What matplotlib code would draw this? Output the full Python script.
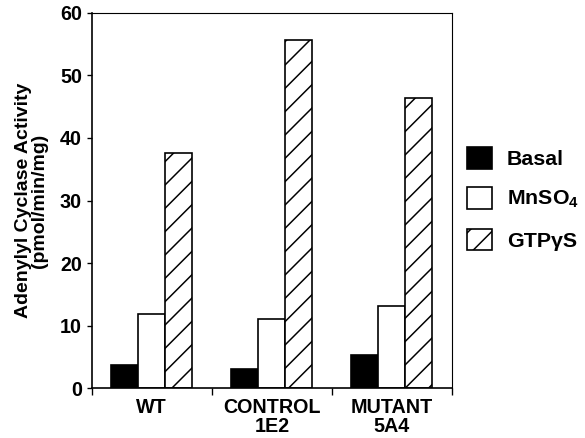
import matplotlib.pyplot as plt
from matplotlib.patches import Patch
import numpy as np

# ------------------------------------------------ Data ------------------------------------------------ #
grupos = ['WT', 'CONTROL\n1E2', 'MUTANT\n5A4']
basal = [3.8, 3.1, 5.3]
mnso4 = [11.8, 11.1, 13.1]
gtp = [37.6, 55.6, 46.3]
series = ['Basal', 'MnSO$_4$', 'GTP\u03b3S']

# ------------------------------------------------ Style ----------------------------------------------- #
# dpi 70 so that the '/' hatch spacing matches the original (~23 px)
dpi = 70
plt.rcParams['font.family'] = ['Liberation Sans', 'DejaVu Sans']
plt.rcParams['font.weight'] = 'bold'
plt.rcParams['mathtext.default'] = 'regular'
plt.rcParams['hatch.linewidth'] = 1.55

fig = plt.figure(figsize=(585 / dpi, 438 / dpi), dpi=dpi)
ax = fig.add_axes([91.7 / 585, 1 - 388.3 / 438, (452 - 91.7) / 585, (388.3 - 12.7) / 438])

x = np.arange(len(grupos))
w = 0.225
ax.bar(x + 0.275, basal, w, color='black', edgecolor='black', linewidth=1.7)
ax.bar(x + 0.5, mnso4, w, color='white', edgecolor='black', linewidth=1.7)
ax.bar(x + 0.725, gtp, w, color='white', edgecolor='black', linewidth=1.7, hatch='/')

ax.set_xlim(0, 3)
ax.set_ylim(0, 60)
ax.set_yticks(range(0, 61, 10))
ax.set_xticks([0, 1, 2, 3])
ax.set_xticklabels([])
ax.set_xticks(x + 0.5, minor=True)
ax.set_xticklabels(grupos, minor=True, fontsize=20.3, fontweight='bold', linespacing=1.0)
ax.tick_params(axis='x', which='minor', length=0, pad=9.5)
ax.tick_params(axis='x', which='major', length=7, width=1.4)
ax.tick_params(axis='y', length=5.1, width=1.4, pad=5.1, labelsize=20.3)
for s in ['left', 'bottom']:
    ax.spines[s].set_linewidth(1.7)
for s in ['top', 'right']:
    ax.spines[s].set_linewidth(1.15)

ax.set_ylabel('Adenylyl Cyclase Activity\n(pmol/min/mg)', fontsize=20, fontweight='bold',
              linespacing=0.9, labelpad=12.3)

# ------------------------------------------------ Legend ---------------------------------------------- #
handles = [Patch(facecolor='black', edgecolor='black', linewidth=1.7),
           Patch(facecolor='white', edgecolor='black', linewidth=1.7),
           Patch(facecolor='white', edgecolor='black', linewidth=1.7, hatch='/')]
fig.legend(handles, series, loc='upper left', bbox_to_anchor=(467 / 585, 1 - 147 / 438),
           frameon=False, borderpad=0, borderaxespad=0, handlelength=1.17, handleheight=1.17,
           labelspacing=0.85, handletextpad=0.69, prop={'weight': 'bold', 'size': 22})

fig.savefig('out.png', dpi=dpi)
